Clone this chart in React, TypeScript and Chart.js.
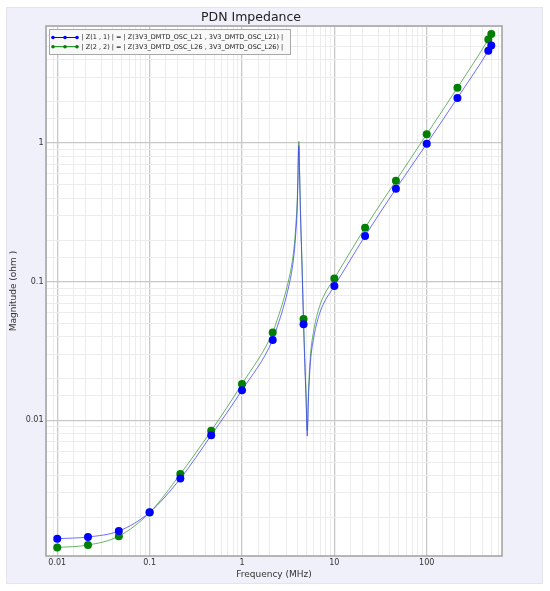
import React, { useEffect, useRef } from "react";
import { Chart, registerables } from "chart.js";

Chart.register(...registerables);

// Marker sample frequencies (MHz)
const markerFreq = [0.01, 0.0215, 0.0464, 0.1, 0.215, 0.464, 1, 2.15, 4.64, 10, 21.5, 46.4, 100, 215, 464, 500];
const z11Markers = [0.0014, 0.00144, 0.00159, 0.00217, 0.0038, 0.0078, 0.0165, 0.038, 0.0493, 0.093, 0.214, 0.468, 0.99, 2.12, 4.64, 5.07];
const z22Markers = [0.00121, 0.00126, 0.00146, 0.00216, 0.0041, 0.0084, 0.0183, 0.043, 0.0538, 0.1057, 0.245, 0.535, 1.16, 2.51, 5.6, 6.12];

// Curve sample frequencies (MHz)
const curveFreq = [0.01, 0.0215, 0.0464, 0.1, 0.215, 0.464, 1, 2.15, 2.4, 2.8, 3.2, 3.5, 3.7, 3.85, 3.95, 4.03, 4.09, 4.13, 4.2, 4.3, 4.45, 4.64, 4.8, 4.95, 5.08, 5.25, 5.5, 6.0, 6.7, 7.6, 10, 21.5, 46.4, 100, 215, 464, 500];
const z11Curve = [0.0014, 0.00144, 0.00159, 0.00217, 0.0038, 0.0078, 0.0165, 0.038, 0.047, 0.065, 0.092, 0.125, 0.17, 0.24, 0.33, 0.52, 0.85, 0.96, 0.6, 0.3, 0.137, 0.0493, 0.024, 0.0135, 0.0077, 0.0148, 0.026, 0.04, 0.055, 0.069, 0.093, 0.214, 0.468, 0.99, 2.12, 4.64, 5.07];
const z22Curve = [0.00121, 0.00126, 0.00146, 0.00216, 0.0041, 0.0084, 0.0183, 0.043, 0.053, 0.073, 0.103, 0.14, 0.19, 0.27, 0.37, 0.58, 0.92, 1.03, 0.65, 0.32, 0.148, 0.0538, 0.026, 0.0145, 0.0085, 0.0165, 0.029, 0.045, 0.062, 0.078, 0.1057, 0.245, 0.535, 1.16, 2.51, 5.6, 6.12];

const xTickLabels: Record<string, string> = { "-2": "0.01", "-1": "0.1", "0": "1", "1": "10", "2": "100" };
const yTickLabels: Record<string, string> = { "-3": "0.001", "-2": "0.01", "-1": "0.1", "0": "1" };

const legendLabels = [
  "| Z(1 , 1) | = | Z(3V3_DMTD_OSC_L21 , 3V3_DMTD_OSC_L21) |",
  "| Z(2 , 2) | = | Z(3V3_DMTD_OSC_L26 , 3V3_DMTD_OSC_L26) |",
];
const seriesColors = ["#0000ff", "#008000"];
const lineColors = ["rgba(60,60,255,0.75)", "rgba(40,150,40,0.7)"];

const FONT = "'DejaVu Sans', sans-serif";

function decade(v: number): number | null {
  if (!v || v <= 0) return null;
  const l = Math.log10(v);
  const r = Math.round(l);
  return Math.abs(l - r) < 1e-6 ? r : null;
}

const bgPlugin = {
  id: "bgPanel",
  beforeDraw(chart: any) {
    const { ctx, chartArea } = chart;
    ctx.save();
    ctx.fillStyle = "#ffffff";
    ctx.fillRect(0, 0, chart.width, chart.height);
    ctx.fillStyle = "#f0f0fa";
    ctx.fillRect(6, 7, 537, 577);
    ctx.strokeStyle = "#e4e4ee";
    ctx.lineWidth = 1;
    ctx.strokeRect(6.5, 7.5, 536, 576);
    ctx.fillStyle = "#ffffff";
    ctx.fillRect(chartArea.left, chartArea.top, chartArea.right - chartArea.left, chartArea.bottom - chartArea.top);
    ctx.restore();
  },
  afterDatasetsDraw(chart: any) {
    const { ctx, chartArea } = chart;
    ctx.save();
    ctx.strokeStyle = "#a0a0a0";
    ctx.lineWidth = 1.5;
    ctx.strokeRect(chartArea.left, chartArea.top, chartArea.right - chartArea.left, chartArea.bottom - chartArea.top);
    // legend
    const bx = 49, by = 29, bw = 241, bh = 25;
    ctx.fillStyle = "rgba(248,248,248,0.95)";
    ctx.fillRect(bx, by, bw, bh);
    ctx.strokeStyle = "#a8a8a8";
    ctx.lineWidth = 1;
    ctx.strokeRect(bx + 0.5, by + 0.5, bw, bh);
    const rows = [37.5, 46.7];
    legendLabels.forEach((label, i) => {
      const y = rows[i];
      ctx.strokeStyle = seriesColors[i];
      ctx.lineWidth = 1;
      ctx.beginPath();
      ctx.moveTo(53, y);
      ctx.lineTo(77, y);
      ctx.stroke();
      ctx.fillStyle = seriesColors[i];
      [53, 65, 77].forEach((px) => {
        ctx.beginPath();
        ctx.arc(px, y, 1.8, 0, Math.PI * 2);
        ctx.fill();
      });
      ctx.fillStyle = "#222";
      ctx.font = `6.5px ${FONT}`;
      ctx.textBaseline = "middle";
      ctx.textAlign = "left";
      ctx.fillText(label, 81.5, y + 0.3);
    });
    ctx.restore();
  },
};

export default function App() {
  const ref = useRef<HTMLCanvasElement | null>(null);
  useEffect(() => {
    if (!ref.current) return;
    const pts = (xs: number[], ys: number[]) => xs.map((x, i) => ({ x, y: ys[i] }));
    const chart = new Chart(ref.current, {
      type: "line",
      data: {
        datasets: [
          {
            label: "z11 markers",
            data: pts(markerFreq, z11Markers),
            showLine: false,
            pointRadius: 4,
            pointBackgroundColor: seriesColors[0],
            pointBorderWidth: 0,
            borderColor: seriesColors[0],
            order: 0,
          },
          {
            label: "z22 markers",
            data: pts(markerFreq, z22Markers),
            showLine: false,
            pointRadius: 4,
            pointBackgroundColor: seriesColors[1],
            pointBorderWidth: 0,
            borderColor: seriesColors[1],
            order: 1,
          },
          {
            label: "z11",
            data: pts(curveFreq, z11Curve),
            borderColor: lineColors[0],
            borderWidth: 1,
            pointRadius: 0,
            cubicInterpolationMode: "monotone",
            order: 2,
          },
          {
            label: "z22",
            data: pts(curveFreq, z22Curve),
            borderColor: lineColors[1],
            borderWidth: 1,
            pointRadius: 0,
            cubicInterpolationMode: "monotone",
            order: 3,
          },
        ],
      },
      options: {
        responsive: false,
        animation: false,
        layout: { padding: { left: 0, right: 48, top: 0, bottom: 0 } },
        plugins: {
          legend: { display: false },
          tooltip: { enabled: false },
          title: {
            display: true,
            text: "PDN Impedance",
            color: "#222",
            font: { family: FONT, size: 12.5, weight: "normal" },
            padding: { top: 10, bottom: 1 },
          },
        },
        scales: {
          x: {
            type: "logarithmic",
            min: 0.00755,
            max: 653,
            afterFit: (s: any) => {
              s.height = 35;
            },
            grid: {
              drawTicks: false,
              color: (c: any) => (decade(c.tick?.value) !== null ? "#c8c8c8" : "#ececec"),
              lineWidth: (c: any) => (decade(c.tick?.value) !== null ? 1.3 : 1),
            },
            border: { display: false },
            ticks: {
              autoSkip: false,
              maxRotation: 0,
              padding: 2.5,
              color: "#333",
              font: { family: FONT, size: 8 },
              callback: (v: any) => {
                const d = decade(Number(v));
                return d !== null && xTickLabels[String(d)] ? xTickLabels[String(d)] : "";
              },
            },
            title: {
              display: true,
              text: "Frequency (MHz)",
              color: "#333",
              font: { family: FONT, size: 9 },
              padding: { top: 0, bottom: 10.6 },
            },
          },
          y: {
            type: "logarithmic",
            min: 0.00105,
            max: 7.0,
            afterFit: (s: any) => {
              s.width = 46;
            },
            grid: {
              drawTicks: false,
              color: (c: any) => (decade(c.tick?.value) !== null ? "#c8c8c8" : "#ececec"),
              lineWidth: (c: any) => (decade(c.tick?.value) !== null ? 1.3 : 1),
            },
            border: { display: false },
            ticks: {
              autoSkip: false,
              padding: 2.5,
              color: "#333",
              font: { family: FONT, size: 8 },
              callback: (v: any) => {
                const d = decade(Number(v));
                return d !== null && yTickLabels[String(d)] ? yTickLabels[String(d)] : "";
              },
            },
            title: {
              display: true,
              text: "Magnitude (ohm )",
              color: "#333",
              font: { family: FONT, size: 9 },
              padding: { top: 8.6, bottom: 0 },
            },
          },
        },
      },
      plugins: [bgPlugin],
    } as any);
    return () => chart.destroy();
  }, []);
  return (
    <div style={{ position: "fixed", left: 0, top: 0, width: 550, height: 591, background: "#fff" }}>
      <canvas ref={ref} width={550} height={591} style={{ display: "block", width: 550, height: 591 }} />
    </div>
  );
}
